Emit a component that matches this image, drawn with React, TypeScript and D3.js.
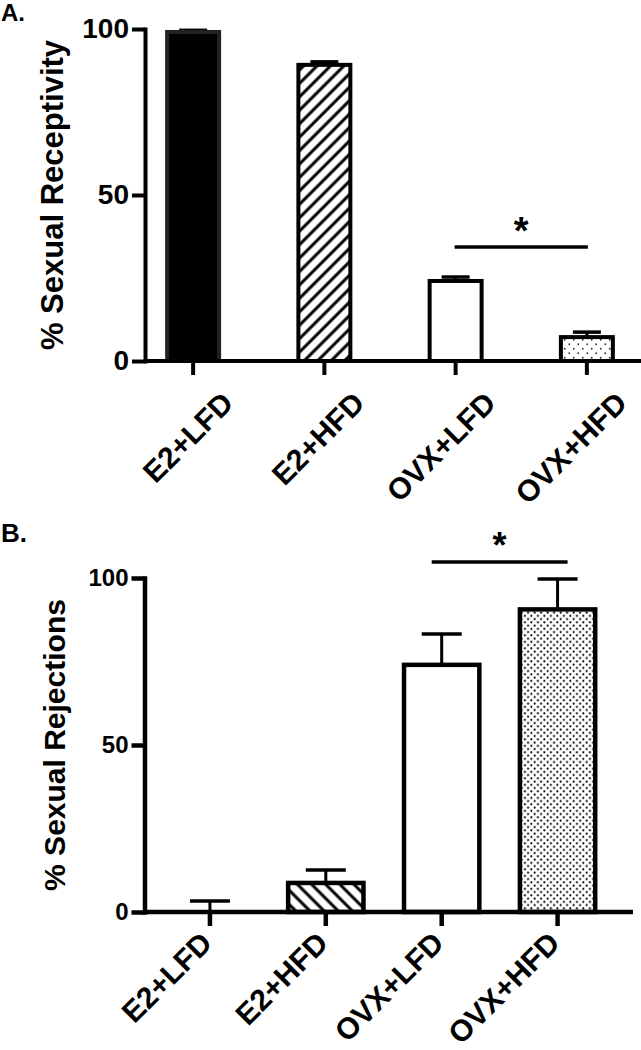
import { useEffect, useRef } from "react";
import * as d3 from "d3";

const groups = ["E2+LFD", "E2+HFD", "OVX+LFD", "OVX+HFD"];
const yTicks = [0, 50, 100];

// panel A: % sexual receptivity
const receptivityMean = [99.1, 89.2, 24.1, 7.2];
const receptivitySem = [0.5, 0.9, 1.2, 1.5];
const receptivityFills = ["solid", "hatchUp", "open", "dots"];

// panel B: % sexual rejections
const rejectionMean = [0, 8.7, 74, 90.6];
const rejectionSem = [3.3, 3.9, 9.2, 9.1];
const rejectionFills = ["solid", "hatchDown", "open", "dots"];

// significance bracket, same pair in both panels
const sigPair = ["OVX+LFD", "OVX+HFD"];

const FONT = "'Liberation Sans', Arial, Helvetica, sans-serif";

type PanelProps = {
  id: string;
  letter: string;
  letterY: number;
  letterSize: number;
  yTitle: string;
  means: number[];
  sems: number[];
  fills: string[];
  top: number;
  bottom: number;
  left: number;
  right: number;
  bandRange: [number, number];
  barRatio: number;
  stroke: number;
  capWidth: number;
  tickFont: number;
  titleFont: number;
  titleX: number;
  labelDx: number;
  labelY: number;
  sigValue: number;
  sigExtend: number;
  starSize: number;
  starGap: number;
  hatchStep: number;
  dotStep: number;
  dotR: number;
  dotColor: string;
};

function BarPanel(p: PanelProps) {
  const ref = useRef<SVGGElement>(null);

  useEffect(() => {
    const g = d3.select(ref.current);
    g.selectAll("*").remove();

    const pad = 1 - p.barRatio;
    const x = d3.scaleBand()
      .domain(groups)
      .range(p.bandRange)
      .paddingInner(pad)
      .paddingOuter(pad / 2);
    const y = d3.scaleLinear().domain([0, 100]).range([p.bottom, p.top]);

    // fill patterns
    const defs = g.append("defs");
    const hatch = (name: string, angle: number) => {
      const pat = defs.append("pattern")
        .attr("id", `${p.id}-${name}`)
        .attr("patternUnits", "userSpaceOnUse")
        .attr("width", p.hatchStep)
        .attr("height", p.hatchStep)
        .attr("patternTransform", `rotate(${angle})`);
      pat.append("rect").attr("width", p.hatchStep).attr("height", p.hatchStep).attr("fill", "#fff");
      pat.append("line")
        .attr("x1", p.hatchStep / 2).attr("x2", p.hatchStep / 2)
        .attr("y1", 0).attr("y2", p.hatchStep)
        .attr("stroke", "#000").attr("stroke-width", 3);
    };
    hatch("hatchUp", 45);
    hatch("hatchDown", -45);

    const s = p.dotStep;
    const dots = defs.append("pattern")
      .attr("id", `${p.id}-dots`)
      .attr("patternUnits", "userSpaceOnUse")
      .attr("width", s)
      .attr("height", s);
    dots.append("rect").attr("width", s).attr("height", s).attr("fill", "#fff");
    dots.append("circle").attr("cx", s / 4).attr("cy", s / 4).attr("r", p.dotR).attr("fill", p.dotColor);
    dots.append("circle").attr("cx", (3 * s) / 4).attr("cy", (3 * s) / 4).attr("r", p.dotR).attr("fill", p.dotColor);

    const fillFor = (f: string) => {
      if (f === "solid") return "#000";
      if (f === "open") return "#fff";
      return `url(#${p.id}-${f})`;
    };

    const data = groups.map((name, i) => ({
      name,
      mean: p.means[i],
      sem: p.sems[i],
      fill: p.fills[i],
    }));
    const cx = (name: string) => x(name)! + x.bandwidth() / 2;

    // error bars (upper only)
    const err = g.append("g").attr("stroke", "#000");
    err.selectAll("line.v")
      .data(data)
      .join("line")
      .attr("class", "v")
      .attr("x1", d => cx(d.name))
      .attr("x2", d => cx(d.name))
      .attr("y1", d => y(d.mean))
      .attr("y2", d => y(d.mean + d.sem))
      .attr("stroke-width", 3);
    err.selectAll("line.cap")
      .data(data)
      .join("line")
      .attr("class", "cap")
      .attr("x1", d => cx(d.name) - p.capWidth / 2)
      .attr("x2", d => cx(d.name) + p.capWidth / 2)
      .attr("y1", d => y(d.mean + d.sem))
      .attr("y2", d => y(d.mean + d.sem))
      .attr("stroke-width", 3.5);

    // bars
    g.append("g")
      .selectAll("rect")
      .data(data)
      .join("rect")
      .attr("x", d => x(d.name)!)
      .attr("y", d => y(d.mean))
      .attr("width", x.bandwidth())
      .attr("height", d => y(0) - y(d.mean))
      .attr("fill", d => fillFor(d.fill))
      .attr("stroke", d => (d.fill === "solid" ? "#222" : "#000"))
      .attr("stroke-width", p.stroke);

    // x axis line
    g.append("line")
      .attr("x1", p.left)
      .attr("x2", p.right)
      .attr("y1", p.bottom)
      .attr("y2", p.bottom)
      .attr("stroke", "#000")
      .attr("stroke-width", p.stroke);

    // x ticks + rotated labels
    const xAxis = g.append("g")
      .attr("transform", `translate(0,${p.bottom})`)
      .call(d3.axisBottom(x).tickSize(14).tickSizeOuter(0));
    xAxis.select(".domain").remove();
    xAxis.selectAll(".tick line").attr("stroke", "#000").attr("stroke-width", p.stroke);
    xAxis.selectAll("text")
      .attr("x", 0)
      .attr("y", 0)
      .attr("dy", null)
      .attr("transform", `translate(${p.labelDx},${p.labelY - p.bottom}) rotate(-45)`)
      .attr("fill", "#000")
      .style("text-anchor", "end")
      .style("font-family", FONT)
      .style("font-weight", "bold")
      .style("font-size", "30px");

    // y axis
    const yAxis = g.append("g")
      .attr("transform", `translate(${p.left},0)`)
      .call(d3.axisLeft(y).tickValues(yTicks).tickSize(13).tickSizeOuter(0).tickPadding(3));
    yAxis.select(".domain")
      .attr("stroke", "#000")
      .attr("stroke-width", p.stroke)
      .attr("stroke-linecap", "square");
    yAxis.selectAll(".tick line").attr("stroke", "#000").attr("stroke-width", p.stroke);
    yAxis.selectAll("text")
      .attr("fill", "#000")
      .style("font-family", FONT)
      .style("font-weight", "bold")
      .style("font-size", `${p.tickFont}px`);

    // y-axis title
    g.append("text")
      .attr("transform", `translate(${p.titleX},${(p.top + p.bottom) / 2}) rotate(-90)`)
      .attr("text-anchor", "middle")
      .style("font-family", FONT)
      .style("font-weight", "bold")
      .style("font-size", `${p.titleFont}px`)
      .text(p.yTitle);

    // panel letter
    g.append("text")
      .attr("x", 1)
      .attr("y", p.letterY)
      .style("font-family", FONT)
      .style("font-weight", "bold")
      .style("font-size", `${p.letterSize}px`)
      .text(p.letter);

    // significance bar
    const sy = y(p.sigValue);
    const sx1 = cx(sigPair[0]) - p.sigExtend;
    const sx2 = cx(sigPair[1]) + p.sigExtend;
    g.append("line")
      .attr("x1", sx1)
      .attr("x2", sx2)
      .attr("y1", sy)
      .attr("y2", sy)
      .attr("stroke", "#000")
      .attr("stroke-width", 3.5);
    g.append("text")
      .attr("x", (sx1 + sx2) / 2)
      .attr("y", sy - p.starGap)
      .attr("text-anchor", "middle")
      .style("font-family", FONT)
      .style("font-weight", "bold")
      .style("font-size", `${p.starSize}px`)
      .text("*");
  }, [p]);

  return <g ref={ref} />;
}

export default function App() {
  return (
    <svg
      width={641}
      height={1050}
      style={{ position: "absolute", left: 0, top: 0, background: "#fff" }}
    >
      <BarPanel
        id="a"
        letter="A."
        letterY={21}
        letterSize={24}
        yTitle="% Sexual Receptivity"
        means={receptivityMean}
        sems={receptivitySem}
        fills={receptivityFills}
        top={29}
        bottom={361}
        left={145}
        right={641}
        bandRange={[127.5, 652.5]}
        barRatio={0.396}
        stroke={4}
        capWidth={28}
        tickFont={28}
        titleFont={31}
        titleX={63}
        labelDx={42}
        labelY={405}
        sigValue={34.3}
        sigExtend={1}
        starSize={38}
        starGap={3}
        hatchStep={9.5}
        dotStep={9}
        dotR={0.9}
        dotColor="#333"
      />
      <BarPanel
        id="b"
        letter="B."
        letterY={542}
        letterSize={26}
        yTitle="% Sexual Rejections"
        means={rejectionMean}
        sems={rejectionSem}
        fills={rejectionFills}
        top={578}
        bottom={912}
        left={144.5}
        right={633}
        bandRange={[152, 615.5]}
        barRatio={0.65}
        stroke={4.5}
        capWidth={40}
        tickFont={24}
        titleFont={30}
        titleX={65}
        labelDx={4}
        labelY={945}
        sigValue={104.8}
        sigExtend={10}
        starSize={36}
        starGap={4}
        hatchStep={10}
        dotStep={6.5}
        dotR={1.05}
        dotColor="#000"
      />
    </svg>
  );
}
